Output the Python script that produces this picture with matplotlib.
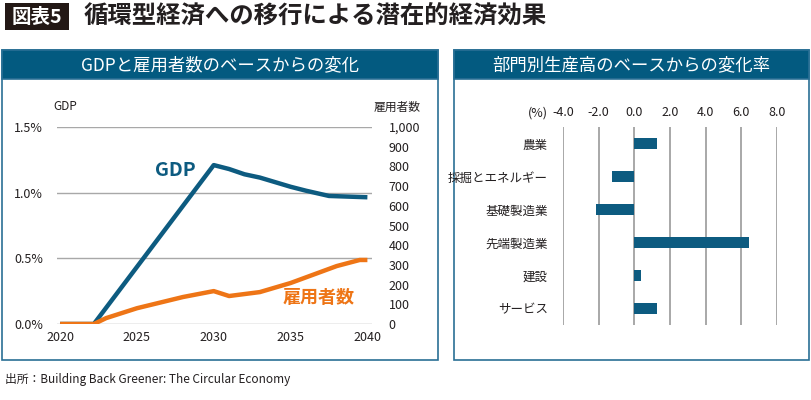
import matplotlib
matplotlib.use("Agg")
import matplotlib.pyplot as plt
from matplotlib.patches import Rectangle

plt.rcParams['font.family'] = ['Noto Sans CJK JP', 'DejaVu Sans']

W, H = 811, 400

# --- data ---
gdp_years = [2020, 2022.2, 2030, 2031, 2032, 2033, 2034, 2035, 2036, 2037.5, 2040]
gdp_pct = [0.0, 0.0, 1.21, 1.18, 1.14, 1.115, 1.08, 1.045, 1.015, 0.975, 0.965]

emp_years = [2020, 2022.2, 2023, 2025, 2028, 2030, 2031, 2033, 2035, 2038, 2039.5, 2040]
emp_count = [0, 0, 30, 80, 137, 167, 142, 162, 208, 294, 325, 325]

gdp_ticks = [0.0, 0.5, 1.0, 1.5]
emp_ticks = list(range(0, 1001, 100))
year_ticks = [2020, 2025, 2030, 2035, 2040]

sectors = ['農業', '採掘とエネルギー', '基礎製造業', '先端製造業', '建設', 'サービス']
sector_change = [1.25, -1.25, -2.15, 6.45, 0.4, 1.25]
sector_ticks = [-4, -2, 0, 2, 4, 6, 8]

BLUE = '#0d5b80'
ORANGE = '#ee7516'
FRAME = '#2a6f95'
GRID = '#a8a8a8'
TXT = '#231f20'


def px_axes(fig, x0, y0, x1, y1):
    # pixel box (top-left origin) -> figure axes
    return fig.add_axes([x0 / W, 1 - y1 / H, (x1 - x0) / W, (y1 - y0) / H])


def fx(x):
    return x / W


def fy(y):
    return 1 - y / H


fig = plt.figure(figsize=(W / 100, H / 100), dpi=100)

# title
fig.patches.append(Rectangle((fx(5), fy(30)), fx(64), 27 / H, transform=fig.transFigure,
                             facecolor='#231815', edgecolor='none', zorder=-1))
fig.text(fx(37), fy(17), '図表5', color='white', fontsize=14, fontweight='bold',
         ha='center', va='center')
fig.text(fx(84), fy(17), '循環型経済への移行による潜在的経済効果', color=TXT, fontsize=17.6,
         fontweight='bold', ha='left', va='center')

# panel frames + headers
for (x0, x1, title) in [(1.5, 438, 'GDPと雇用者数のベースからの変化'),
                        (453.5, 809, '部門別生産高のベースからの変化率')]:
    fig.patches.append(Rectangle((fx(x0), fy(360)), fx(x1 - x0), 310 / H,
                                 transform=fig.transFigure, facecolor='white',
                                 edgecolor=FRAME, linewidth=1.2, zorder=-2))
    fig.patches.append(Rectangle((fx(x0), fy(79)), fx(x1 - x0), 29 / H,
                                 transform=fig.transFigure, facecolor='#035a80',
                                 edgecolor=FRAME, linewidth=1.2, zorder=-1))
    fig.text(fx((x0 + x1) / 2), fy(65), title, color='white', fontsize=12.5,
             ha='center', va='center')

# ---- left: GDP and employment ----
ax = px_axes(fig, 57, 127, 372, 324)
ax.set_zorder(2)
ax.set_xlim(2019.8, 2040.3)
ax.set_ylim(0, 1.5)
for v in gdp_ticks:
    ax.axhline(v, color=GRID, lw=1.0, zorder=1)
ax.plot(gdp_years, gdp_pct, color=BLUE, lw=3.2, solid_capstyle='butt', zorder=3)
ax.set_yticks(gdp_ticks)
ax.set_yticklabels(['%.1f%%' % v for v in gdp_ticks])
ax.set_xticks(year_ticks)
ax.tick_params(length=0, labelsize=9, colors=TXT)
ax.tick_params(axis='y', pad=10)
ax.tick_params(axis='x', pad=5)
for s in ax.spines.values():
    s.set_visible(False)
ax.patch.set_alpha(0)

ax2 = ax.twinx()
ax2.set_zorder(3)
ax2.patch.set_alpha(0)
ax2.set_ylim(0, 1000)
ax2.plot(emp_years, emp_count, color=ORANGE, lw=3.2, solid_capstyle='butt', zorder=3)
ax2.set_yticks(emp_ticks)
ax2.set_yticklabels(['{:,}'.format(v) for v in emp_ticks])
ax2.tick_params(length=0, labelsize=9, colors=TXT, pad=12)
for s in ax2.spines.values():
    s.set_visible(False)

ax.text(2027.5, 1.17, 'GDP', color=BLUE, fontsize=14, fontweight='bold',
        ha='center', va='center')
ax2.text(2036.85, 132, '雇用者数', color=ORANGE, fontsize=13, fontweight='bold',
         ha='center', va='center')
fig.text(fx(53), fy(107), 'GDP', color=TXT, fontsize=8.5, ha='left', va='center')
fig.text(fx(421), fy(107), '雇用者数', color=TXT, fontsize=8.5, ha='right', va='center')

# ---- right: sector output ----
bx = px_axes(fig, 563, 127, 777, 325)
bx.set_zorder(2)
bx.set_xlim(-4, 8)
bx.set_ylim(len(sectors) - 0.5, -0.5)
for v in sector_ticks:
    bx.axvline(v, color=GRID, lw=1.4, zorder=1)
bx.barh(range(len(sectors)), sector_change, height=0.36, color=BLUE, zorder=3)
bx.set_yticks(range(len(sectors)))
bx.set_yticklabels(sectors)
bx.xaxis.tick_top()
bx.set_xticks(sector_ticks)
bx.set_xticklabels(['%.1f' % v for v in sector_ticks])
bx.tick_params(length=0, labelsize=9, colors=TXT)
bx.tick_params(axis='y', pad=11)
bx.tick_params(axis='x', pad=6)
for s in bx.spines.values():
    s.set_visible(False)
bx.patch.set_alpha(0)
fig.text(fx(538), fy(113), '(%)', color=TXT, fontsize=9, ha='center', va='center')

# footer
fig.text(fx(5), fy(380), '出所：Building Back Greener: The Circular Economy', color=TXT,
         fontsize=8.5, ha='left', va='center')

fig.savefig('out.png', dpi=100)
